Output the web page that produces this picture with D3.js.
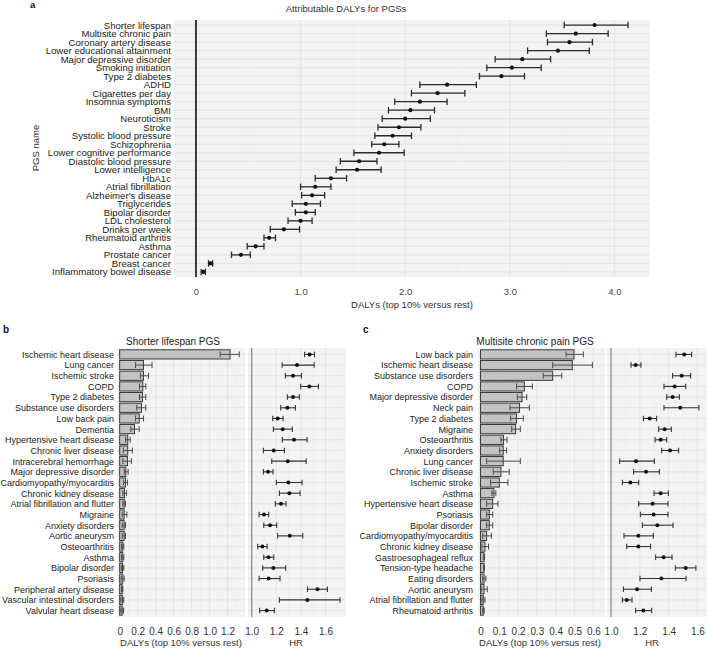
<!DOCTYPE html>
<html><head><meta charset="utf-8">
<script src="https://cdn.jsdelivr.net/npm/d3@7"></script>
<style>body{margin:0;background:#fff}svg{display:block;font-family:"Liberation Sans",Arial,sans-serif}</style>
</head><body>
<script>
// ---- Panel a data ----
const aNames = ["Shorter lifespan","Multisite chronic pain","Coronary artery disease","Lower educational attainment","Major depressive disorder","Smoking initiation","Type 2 diabetes","ADHD","Cigarettes per day","Insomnia symptoms","BMI","Neuroticism","Stroke","Systolic blood pressure","Schizophrenia","Lower cognitive performance","Diastolic blood pressure","Lower intelligence","HbA1c","Atrial fibrillation","Alzheimer's disease","Triglycerides","Bipolar disorder","LDL cholesterol","Drinks per week","Rheumatoid arthritis","Asthma","Prostate cancer","Breast cancer","Inflammatory bowel disease"];
const aVal = [3.81,3.63,3.57,3.46,3.12,3.02,2.92,2.40,2.31,2.14,2.05,2.00,1.94,1.88,1.80,1.75,1.56,1.54,1.29,1.14,1.11,1.05,1.05,1.00,0.84,0.70,0.57,0.43,0.14,0.07];
const aLo  = [3.52,3.35,3.36,3.17,2.86,2.78,2.71,2.14,2.06,1.90,1.84,1.78,1.74,1.71,1.68,1.51,1.38,1.34,1.14,1.00,1.01,0.92,0.95,0.88,0.71,0.65,0.49,0.34,0.12,0.05];
const aHi  = [4.13,3.94,3.79,3.76,3.39,3.30,3.14,2.68,2.57,2.40,2.28,2.24,2.15,2.06,1.94,1.99,1.73,1.77,1.44,1.29,1.23,1.19,1.14,1.11,0.99,0.76,0.65,0.52,0.16,0.09];
const aTicks = [0,1,2,3,4];

// ---- Panel b data ----
const bNames = ["Ischemic heart disease","Lung cancer","Ischemic stroke","COPD","Type 2 diabetes","Substance use disorders","Low back pain","Dementia","Hypertensive heart disease","Chronic liver disease","Intracerebral hemorrhage","Major depressive disorder","Cardiomyopathy/myocarditis","Chronic kidney disease","Atrial fibrillation and flutter","Migraine","Anxiety disorders","Aortic aneurysm","Osteoarthritis","Asthma","Bipolar disorder","Psoriasis","Peripheral artery disease","Vascular intestinal disorders","Valvular heart disease"];
const bDaly   = [1.228,0.265,0.265,0.257,0.254,0.243,0.217,0.165,0.090,0.090,0.087,0.069,0.065,0.054,0.050,0.050,0.050,0.050,0.035,0.035,0.031,0.035,0.028,0.030,0.028];
const bDalyLo = [1.117,0.176,0.230,0.220,0.220,0.190,0.176,0.124,0.065,0.040,0.035,0.050,0.043,0.035,0.035,0.028,0.028,0.028,0.020,0.020,0.017,0.017,0.020,0.013,0.013];
const bDalyHi = [1.330,0.360,0.320,0.290,0.290,0.290,0.265,0.217,0.117,0.140,0.130,0.094,0.087,0.076,0.065,0.080,0.065,0.065,0.046,0.046,0.046,0.050,0.035,0.046,0.043];
const bHr   = [1.47,1.368,1.336,1.469,1.336,1.290,1.211,1.252,1.344,1.179,1.293,1.133,1.298,1.306,1.238,1.100,1.149,1.309,1.087,1.136,1.176,1.138,1.534,1.453,1.122];
const bHrLo = [1.43,1.247,1.274,1.398,1.290,1.236,1.171,1.176,1.249,1.095,1.163,1.095,1.200,1.225,1.192,1.060,1.098,1.211,1.049,1.098,1.089,1.060,1.453,1.225,1.065];
const bHrHi = [1.51,1.507,1.404,1.542,1.387,1.355,1.255,1.330,1.450,1.266,1.442,1.173,1.409,1.393,1.279,1.138,1.203,1.415,1.125,1.179,1.276,1.230,1.615,1.718,1.184];
const bDalyTicks = [0,0.2,0.4,0.6,0.8,1.0,1.2];
const bHrTicks = [1.0,1.2,1.4,1.6];

// ---- Panel c data ----
const cNames = ["Low back pain","Ischemic heart disease","Substance use disorders","COPD","Major depressive disorder","Neck pain","Type 2 diabetes","Migraine","Osteoarthritis","Anxiety disorders","Lung cancer","Chronic liver disease","Ischemic stroke","Asthma","Hypertensive heart disease","Psoriasis","Bipolar disorder","Cardiomyopathy/myocarditis","Chronic kidney disease","Gastroesophageal reflux","Tension-type headache","Eating disorders","Aortic aneurysm","Atrial fibrillation and flutter","Rheumatoid arthritis"];
const cDaly   = [0.497,0.488,0.384,0.233,0.221,0.208,0.192,0.187,0.123,0.121,0.121,0.109,0.100,0.072,0.065,0.047,0.047,0.033,0.024,0.019,0.019,0.019,0.019,0.015,0.015];
const cDalyLo = [0.455,0.384,0.334,0.192,0.196,0.157,0.160,0.166,0.109,0.102,0.033,0.068,0.054,0.061,0.033,0.033,0.033,0.012,0.008,0.015,0.016,0.012,0.004,0.008,0.012];
const cDalyHi = [0.547,0.595,0.432,0.276,0.246,0.260,0.228,0.212,0.141,0.139,0.212,0.153,0.146,0.082,0.093,0.065,0.065,0.058,0.043,0.022,0.021,0.029,0.036,0.024,0.020];
const cHr   = [1.509,1.171,1.491,1.442,1.428,1.481,1.269,1.373,1.345,1.410,1.174,1.243,1.134,1.345,1.289,1.296,1.322,1.190,1.190,1.366,1.519,1.350,1.181,1.109,1.225];
const cHrLo = [1.451,1.139,1.428,1.368,1.387,1.368,1.225,1.331,1.306,1.352,1.060,1.157,1.079,1.299,1.192,1.204,1.218,1.090,1.109,1.310,1.447,1.201,1.086,1.079,1.171];
const cHrHi = [1.560,1.208,1.553,1.519,1.475,1.611,1.317,1.419,1.387,1.470,1.301,1.336,1.192,1.398,1.396,1.396,1.431,1.294,1.275,1.424,1.590,1.521,1.280,1.146,1.282];
const cDalyTicks = [0,0.1,0.2,0.3,0.4,0.5,0.6];
const cHrTicks = [1.0,1.2,1.4,1.6];

const W = 707, H = 649;
const svg = d3.select("body").append("svg").attr("width", W).attr("height", H);
const BG = "#f2f3f2", GRID = "#e1e4e1", GRIDMIN = "#eaece9";
const fmt = d => d === 0 ? "0" : d3.format(".1f")(d);

function grid(g, x, y, names, majors, minors, x0, x1, y0, y1) {
  g.append("rect").attr("x", x0).attr("y", y0).attr("width", x1 - x0).attr("height", y1 - y0).attr("fill", BG);
  g.selectAll(null).data(minors).join("line")
    .attr("x1", d => x(d)).attr("x2", d => x(d)).attr("y1", y0).attr("y2", y1)
    .attr("stroke", GRIDMIN).attr("stroke-width", 0.6);
  g.selectAll(null).data(majors).join("line")
    .attr("x1", d => x(d)).attr("x2", d => x(d)).attr("y1", y0).attr("y2", y1)
    .attr("stroke", GRID).attr("stroke-width", 0.9);
  g.selectAll(null).data(names).join("line")
    .attr("x1", x0).attr("x2", x1).attr("y1", d => y(d)).attr("y2", d => y(d))
    .attr("stroke", GRID).attr("stroke-width", 0.9);
}

function errbars(g, x, y, names, lo, hi, cap, color, sw) {
  const eg = g.append("g").attr("stroke", color).attr("stroke-width", sw).attr("fill", "none");
  names.forEach((n, i) => {
    const yy = y(n);
    eg.append("line").attr("x1", x(lo[i])).attr("x2", x(hi[i])).attr("y1", yy).attr("y2", yy);
    eg.append("line").attr("x1", x(lo[i])).attr("x2", x(lo[i])).attr("y1", yy - cap / 2).attr("y2", yy + cap / 2);
    eg.append("line").attr("x1", x(hi[i])).attr("x2", x(hi[i])).attr("y1", yy - cap / 2).attr("y2", yy + cap / 2);
  });
}

function xAxis(g, x, ticks, yPos, fs, color) {
  const ax = g.append("g").attr("transform", `translate(0,${yPos})`)
    .call(d3.axisBottom(x).tickValues(ticks).tickFormat(fmt).tickSize(0).tickPadding(7));
  ax.select(".domain").remove();
  ax.selectAll("text").attr("font-size", fs).attr("fill", color).attr("font-family", "Liberation Sans, Arial, sans-serif");
}

function yAxis(g, y, xPos, fs) {
  const ax = g.append("g").attr("transform", `translate(${xPos},0)`)
    .call(d3.axisLeft(y).tickSize(0).tickPadding(0));
  ax.select(".domain").remove();
  ax.selectAll("text").attr("font-size", fs).attr("fill", "#222").attr("font-family", "Liberation Sans, Arial, sans-serif");
}

// ===== Panel a =====
{
  const g = svg.append("g");
  const x0 = 174, x1 = 650, y0 = 20, y1 = 277;
  const x = d3.scaleLinear().domain([-0.21, 4.34]).range([x0, x1]);
  const y = d3.scalePoint().domain(aNames).range([y0, y1]).padding(0.6);
  grid(g, x, y, aNames, aTicks, [0.5, 1.5, 2.5, 3.5], x0, x1, y0, y1);
  g.append("line").attr("x1", x(0)).attr("x2", x(0)).attr("y1", y0).attr("y2", y1).attr("stroke", "#111").attr("stroke-width", 1.6);
  errbars(g, x, y, aNames, aLo, aHi, 6.5, "#2b2b2b", 1.3);
  g.selectAll(null).data(aNames).join("circle")
    .attr("cx", (d, i) => x(aVal[i])).attr("cy", d => y(d)).attr("r", 2.1).attr("fill", "#111");
  yAxis(g, y, 171, 9.6);
  xAxis(g, x, aTicks, y1 + 4, 9.5, "#444");
  g.append("text").attr("x", 412).attr("y", 308).attr("text-anchor", "middle").attr("font-size", 9.5).attr("fill", "#333").text("DALYs (top 10% versus rest)");
  g.append("text").attr("transform", "translate(39,148) rotate(-90)").attr("text-anchor", "middle").attr("font-size", 9.5).attr("fill", "#333").text("PGS name");
  g.append("text").attr("x", 346).attr("y", 12).attr("text-anchor", "middle").attr("font-size", 9.5).attr("fill", "#333").text("Attributable DALYs for PGSs");
  g.append("text").attr("x", 30).attr("y", 8).attr("font-size", 9.5).attr("font-weight", "bold").attr("fill", "#111").text("a");
}

// ===== Panels b and c =====
function subPanel(opt) {
  const g = svg.append("g");
  const y0 = 348, y1 = 617;
  const y = d3.scalePoint().domain(opt.names).range([y0, y1]).padding(0.6);
  const step = y.step();
  // DALY part
  const xd = d3.scaleLinear().domain(opt.dDom).range([opt.dx0, opt.dx1]);
  grid(g, xd, y, opt.names, opt.dTicks, opt.dMinor, opt.dx0, opt.dx1, y0, y1);
  g.selectAll(null).data(opt.names).join("rect")
    .attr("x", xd(0)).attr("y", d => y(d) - step * 0.43)
    .attr("width", (d, i) => xd(opt.daly[i]) - xd(0)).attr("height", step * 0.86)
    .attr("fill", "#c3c3c3").attr("stroke", "#2a2a2a").attr("stroke-width", 0.9);
  errbars(g, xd, y, opt.names, opt.dLo, opt.dHi, 6, "#4a4a4a", 1);
  // HR part
  const xh = d3.scaleLinear().domain(opt.hDom).range([opt.hx0, opt.hx1]);
  grid(g, xh, y, opt.names, opt.hTicks, opt.hMinor, opt.hx0, opt.hx1, y0, y1);
  g.append("line").attr("x1", xh(1)).attr("x2", xh(1)).attr("y1", y0).attr("y2", y1).attr("stroke", "#8a8a8a").attr("stroke-width", 1.2);
  errbars(g, xh, y, opt.names, opt.hLo, opt.hHi, 5.5, "#333", 1.1);
  g.selectAll(null).data(opt.names).join("circle")
    .attr("cx", (d, i) => xh(opt.hr[i])).attr("cy", d => y(d)).attr("r", 2).attr("fill", "#111");
  yAxis(g, y, opt.labX, 9.0);
  xAxis(g, xd, opt.dTicks, y1 + 4, 10, "#333");
  xAxis(g, xh, opt.hTicks, y1 + 4, 10, "#333");
  g.append("text").attr("x", opt.dTitleX).attr("y", 646).attr("text-anchor", "middle").attr("font-size", 9.5).attr("fill", "#333").text("DALYs (top 10% versus rest)");
  g.append("text").attr("x", opt.hTitleX).attr("y", 646).attr("text-anchor", "middle").attr("font-size", 9.5).attr("fill", "#333").text("HR");
  g.append("text").attr("x", opt.titleX).attr("y", 345).attr("text-anchor", "middle").attr("font-size", 10).attr("fill", "#222").text(opt.title);
  g.append("text").attr("x", opt.letterX).attr("y", 333).attr("font-size", 10).attr("font-weight", "bold").attr("fill", "#111").text(opt.letter);
}

subPanel({
  names: bNames, daly: bDaly, dLo: bDalyLo, dHi: bDalyHi, hr: bHr, hLo: bHrLo, hHi: bHrHi,
  dDom: [-0.03, 1.394], dx0: 117, dx1: 245, dTicks: bDalyTicks, dMinor: [0.1, 0.3, 0.5, 0.7, 0.9, 1.1, 1.3],
  hDom: [0.97, 1.766], hx0: 248, hx1: 346, hTicks: bHrTicks, hMinor: [1.1, 1.3, 1.5, 1.7],
  labX: 114, dTitleX: 181, hTitleX: 296, titleX: 173, title: "Shorter lifespan PGS", letter: "b", letterX: 3
});
subPanel({
  names: cNames, daly: cDaly, dLo: cDalyLo, dHi: cDalyHi, hr: cHr, hLo: cHrLo, hHi: cHrHi,
  dDom: [-0.013, 0.662], dx0: 478, dx1: 605, dTicks: cDalyTicks, dMinor: [0.05, 0.15, 0.25, 0.35, 0.45, 0.55, 0.65],
  hDom: [0.972, 1.667], hx0: 607, hx1: 707, hTicks: cHrTicks, hMinor: [1.1, 1.3, 1.5],
  labX: 473, dTitleX: 540, hTitleX: 652, titleX: 535, title: "Multisite chronic pain PGS", letter: "c", letterX: 363
});
</script>
</body></html>
